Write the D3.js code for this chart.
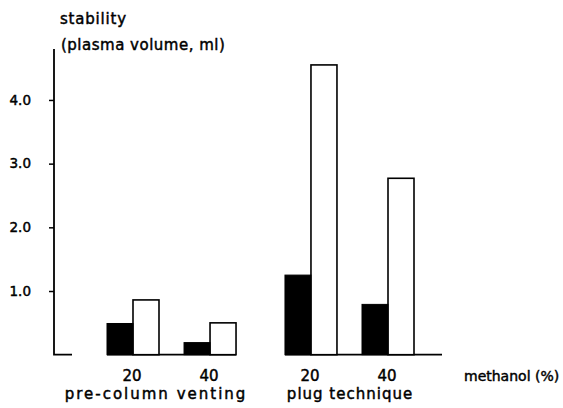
<!DOCTYPE html>
<html>
<head>
<meta charset="utf-8">
<script src="https://cdn.jsdelivr.net/npm/d3@7"></script>
<style>
  html, body { margin: 0; padding: 0; background: #fff; }
  svg { display: block; }
  text { font-family: "DejaVu Sans", sans-serif; fill: #000; stroke: #000; stroke-width: 0.45px; }
</style>
</head>
<body>
<svg id="chart" width="563" height="408"></svg>
<script>
// Techniques compared (outer groups)
const techniques = ["pre-column venting", "plug technique"];
// Methanol content of the sample (%)
const methanol = ["20", "40"];
// Stability, plasma volume in ml — filled (black) bars
const blackValues = [0.49, 0.19, 1.25, 0.79];
// Stability, plasma volume in ml — open (white) bars
const whiteValues = [0.86, 0.50, 4.55, 2.77];
// Y axis ticks
const yTicks = [1.0, 2.0, 3.0, 4.0];

const svg = d3.select("#chart");

const y = d3.scaleLinear().domain([0, 4.8]).range([354.7, 49]);

const xGroup = d3.scaleBand().domain(techniques).range([107, 414]).paddingInner(0.275).paddingOuter(0);
const xSub = d3.scaleBand().domain(methanol).range([0, xGroup.bandwidth()]).paddingInner(0.325).paddingOuter(0);
const barW = xSub.bandwidth() / 2;

const rows = [];
techniques.forEach((t, gi) => {
  methanol.forEach((m, mi) => {
    const i = gi * methanol.length + mi;
    rows.push({ technique: t, methanol: m, black: blackValues[i], white: whiteValues[i] });
  });
});

const axisX = 54;

// Y axis line with short foot at the origin
svg.append("path")
  .attr("d", `M${axisX},${y(4.8)} V${y(0)} H${axisX + 18}`)
  .attr("fill", "none").attr("stroke", "#000").attr("stroke-width", 1.8);

const yAxis = d3.axisLeft(y).tickValues(yTicks).tickFormat(d3.format(".1f")).tickSize(5).tickPadding(18);
const gy = svg.append("g").attr("transform", `translate(${axisX},0)`).call(yAxis);
gy.select(".domain").remove();
gy.selectAll(".tick line").attr("stroke", "#000").attr("stroke-width", 1.5);
gy.selectAll(".tick text").attr("font-size", 13.5).attr("font-family", "DejaVu Sans, sans-serif").attr("fill", "#000");

// Baselines under each technique group
techniques.forEach((t, gi) => {
  const x0 = xGroup(t);
  const x1 = xGroup(t) + xGroup.bandwidth() + (gi === 1 ? 28 : 0);
  svg.append("line")
    .attr("x1", x0).attr("x2", x1).attr("y1", y(0)).attr("y2", y(0))
    .attr("stroke", "#000").attr("stroke-width", 1.8);
});

const bars = svg.append("g");
rows.forEach(r => {
  const bx = xGroup(r.technique) + xSub(r.methanol);
  bars.append("rect")
    .attr("x", bx + barW).attr("y", y(r.white))
    .attr("width", barW).attr("height", y(0) - y(r.white))
    .attr("fill", "#fff").attr("stroke", "#000").attr("stroke-width", 1.6);
  bars.append("rect")
    .attr("x", bx).attr("y", y(r.black))
    .attr("width", barW).attr("height", y(0) - y(r.black))
    .attr("fill", "#000").attr("stroke", "#000").attr("stroke-width", 1);
  // methanol labels
  svg.append("text")
    .attr("x", bx + barW - 1).attr("y", 381)
    .attr("text-anchor", "middle").attr("font-size", 15)
    .text(r.methanol);
});

// Technique labels
svg.append("text").attr("x", 156).attr("y", 399).attr("text-anchor", "middle")
  .attr("font-size", 15).attr("letter-spacing", 2).text(techniques[0]);
svg.append("text").attr("x", 350).attr("y", 399).attr("text-anchor", "middle")
  .attr("font-size", 15).attr("letter-spacing", 1).text(techniques[1]);

// X axis title
svg.append("text").attr("x", 464).attr("y", 381).attr("font-size", 14)
  .text("methanol (%)");

// Y axis title
svg.append("text").attr("x", 60).attr("y", 24).attr("font-size", 15)
  .attr("letter-spacing", 0.8).text("stability");
svg.append("text").attr("x", 61).attr("y", 50).attr("font-size", 15)
  .attr("letter-spacing", 0.5).text("(plasma volume, ml)");
</script>
</body>
</html>
